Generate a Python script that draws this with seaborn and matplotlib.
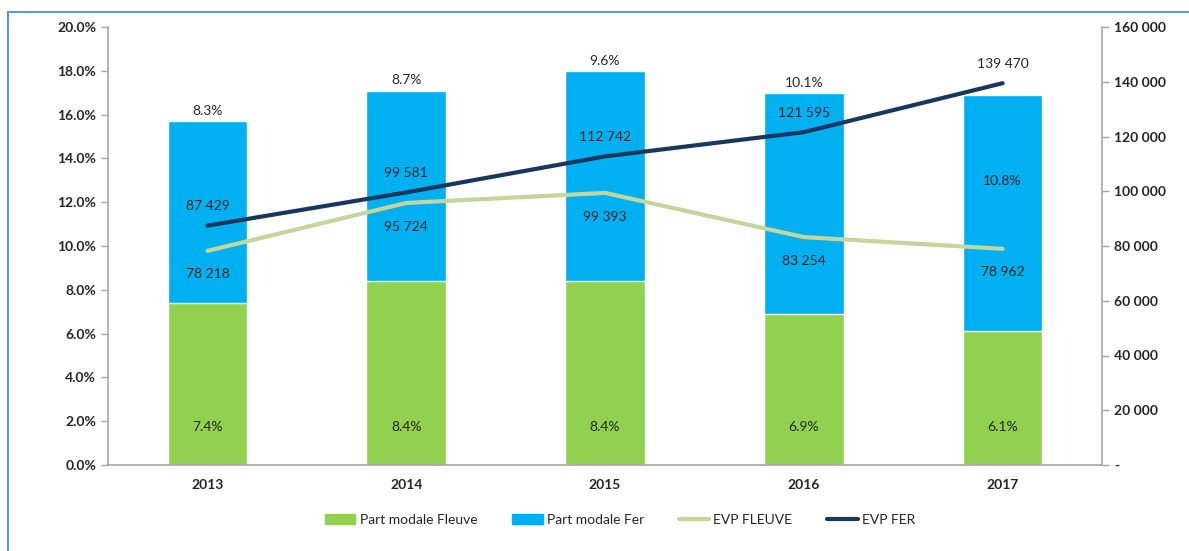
import numpy as np
import pandas as pd
import matplotlib.pyplot as plt
import matplotlib.patches as mpatches
from matplotlib.lines import Line2D
from matplotlib.ticker import FuncFormatter
import seaborn as sns

years = ['2013', '2014', '2015', '2016', '2017']
part_fleuve = [7.4, 8.4, 8.4, 6.9, 6.1]      # % modal share river
part_fer = [8.3, 8.7, 9.6, 10.1, 10.8]       # % modal share rail
evp_fleuve = [78218, 95724, 99393, 83254, 78962]
evp_fer = [87429, 99581, 112742, 121595, 139470]

green, blue = '#92d050', '#00b0f0'
lgreen, navy = '#c3d69b', '#17375e'
txt = '#262626'

sns.set_style('white')
plt.rcParams['font.family'] = ['Lato', 'DejaVu Sans']

df = pd.DataFrame({'year': years, 'fleuve': part_fleuve, 'fer': part_fer,
                   'evp_fleuve': evp_fleuve, 'evp_fer': evp_fer})
df['total'] = df['fleuve'] + df['fer']
df['x'] = np.arange(len(df))

fig = plt.figure(figsize=(11.89, 5.51), dpi=100)
ax = fig.add_axes([108/1189, 1-465/551, (1102-108)/1189, (465-27)/551])

# stacked bars: total (blue) then river share (green) on top
sns.barplot(data=df, x='year', y='total', color=blue, width=0.4, saturation=1, ax=ax)
sns.barplot(data=df, x='year', y='fleuve', color=green, width=0.4, saturation=1, ax=ax)
ax.set_ylim(0, 20)
ax.set_xlim(-0.5, 4.5)
ax.set_yticks(np.arange(0, 20.1, 2))
ax.yaxis.set_major_formatter(FuncFormatter(lambda v, p: f'{v:.1f}%'))
ax.set_xlabel(''); ax.set_ylabel('')

ax2 = ax.twinx()
sns.lineplot(data=df, x='x', y='evp_fleuve', color=lgreen, lw=3, ax=ax2)
sns.lineplot(data=df, x='x', y='evp_fer', color=navy, lw=3, ax=ax2)
ax2.set_ylim(0, 160000)
ax2.set_xlim(-0.5, 4.5)
ax2.set_yticks(np.arange(0, 160001, 20000))
ax2.yaxis.set_major_formatter(FuncFormatter(lambda v, p: '-' if v == 0 else f'{int(v):,}'.replace(',', ' ')))
ax2.set_xlabel(''); ax2.set_ylabel('')

for a in (ax, ax2):
    for s in a.spines.values():
        s.set_visible(False)
    a.tick_params(colors='#a6a6a6', labelcolor=txt, labelsize=10, length=5, width=1)
ax.spines['left'].set_visible(True)
ax.spines['bottom'].set_visible(True)
ax2.spines['right'].set_visible(True)
for s in (ax.spines['left'], ax.spines['bottom'], ax2.spines['right']):
    s.set_color('#a6a6a6'); s.set_linewidth(1.2)
ax.tick_params(axis='x', length=0, pad=10)
for lab in ax.get_xticklabels() + ax.get_yticklabels() + ax2.get_yticklabels():
    lab.set_fontweight('bold')

# labels
for i, r in df.iterrows():
    ax.text(i, 1.75, f'{r.fleuve:.1f}%', ha='center', va='center', fontsize=10, color=txt)
    if i == len(df) - 1:
        ax.annotate(f'{r.fer:.1f}%', (i, r.total), xytext=(0, -62), textcoords='offset points',
                    ha='center', va='center', fontsize=10, color=txt)
    else:
        ax.annotate(f'{r.fer:.1f}%', (i, r.total), xytext=(0, 3), textcoords='offset points',
                    ha='center', va='bottom', fontsize=10, color=txt)
    ax2.annotate(f'{int(r.evp_fer):,}'.replace(',', ' '), (i, r.evp_fer), xytext=(0, 14),
                 textcoords='offset points', ha='center', va='center', fontsize=10, color=txt)
    ax2.annotate(f'{int(r.evp_fleuve):,}'.replace(',', ' '), (i, r.evp_fleuve), xytext=(0, -17),
                 textcoords='offset points', ha='center', va='center', fontsize=10, color=txt)

handles = [mpatches.Patch(color=green, label='Part modale Fleuve'),
           mpatches.Patch(color=blue, label='Part modale Fer'),
           Line2D([], [], color=lgreen, lw=3, label='EVP FLEUVE'),
           Line2D([], [], color=navy, lw=3, label='EVP FER')]
fig.legend(handles=handles, loc='center', bbox_to_anchor=(620/1189, 1-520/551), ncol=4,
           frameon=False, fontsize=10, handlelength=2.2, handletextpad=0.3, columnspacing=2.5,
           labelcolor=txt)

# outer frame
fig.patches.append(mpatches.Rectangle((8/1189, -0.05), 1.1, 1-12/551+0.05, transform=fig.transFigure,
                                      fill=False, edgecolor='#5b9bd5', lw=1.5))

fig.savefig('out.png', dpi=100)
